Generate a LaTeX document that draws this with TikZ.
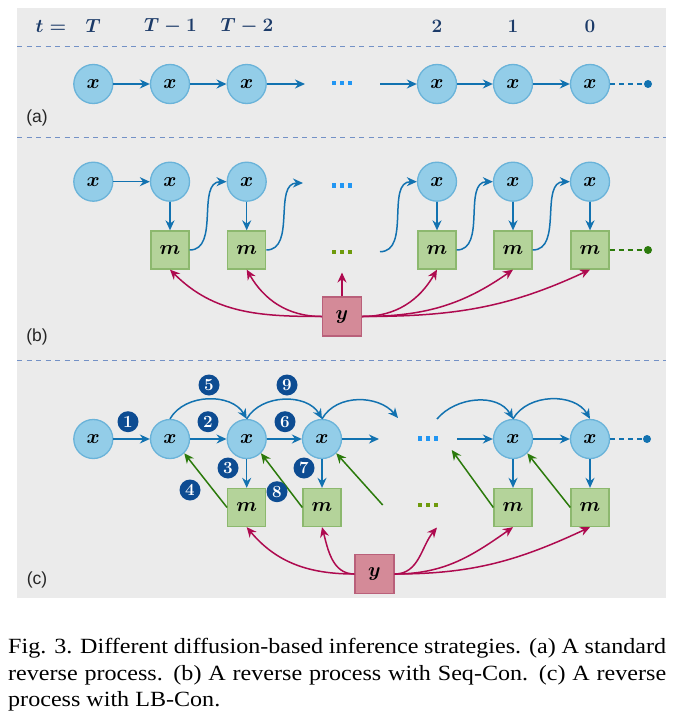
\RequirePackage{fix-cm}
\documentclass[tikz,border=0pt]{standalone}
\usepackage{fontspec}
\usepackage{amsmath}
\usepackage{graphicx}
\usetikzlibrary{arrows.meta}
\newfontfamily\capfont{Liberation Serif}
\newfontfamily\labfont{Liberation Sans}
\definecolor{bgc}{HTML}{EBEBEB}
\definecolor{xfill}{HTML}{93CDE8}
\definecolor{xdraw}{HTML}{6AB3D9}
\definecolor{arrblue}{HTML}{1272B0}
\definecolor{mfill}{HTML}{B4D39A}
\definecolor{mdraw}{HTML}{8CB86E}
\definecolor{yfill}{HTML}{D48A98}
\definecolor{ydraw}{HTML}{B9607A}
\definecolor{redc}{HTML}{AE0A4F}
\definecolor{greenc}{HTML}{2B7A0B}
\definecolor{numc}{HTML}{0D4C92}
\definecolor{hdrc}{HTML}{1B3A68}
\definecolor{sepc}{HTML}{7391C6}
\definecolor{dotblue}{HTML}{2196F3}
\definecolor{dotgreen}{HTML}{6E9A0C}
\newcommand\mathfs{\fontsize{20}{22}\selectfont\boldmath}
\newcommand\capline[1]{\scalebox{1.11}[1]{\makebox[592.8pt][s]{#1}}}
\begin{document}
\begin{tikzpicture}[x=1pt,y=1pt,
  xn/.style={circle,fill=xfill,draw=xdraw,line width=1.3pt,minimum size=39pt,inner sep=0pt,font=\mathfs},
  mn/.style={rectangle,fill=mfill,draw=mdraw,line width=1.3pt,minimum size=38pt,inner sep=0pt,font=\mathfs},
  yn/.style={rectangle,fill=yfill,draw=ydraw,line width=1.3pt,minimum size=39pt,inner sep=0pt,font=\mathfs},
  hdr/.style={text=hdrc,font=\fontsize{19}{20}\selectfont\boldmath,inner sep=0pt},
  lab/.style={font=\labfont\fontsize{17.5}{19}\selectfont,text=black!85,inner sep=0pt},
  num/.style={circle,fill=numc,text=white,minimum size=21pt,inner sep=0pt,font=\fontsize{17}{17}\selectfont\bfseries},
  barr/.style={draw=arrblue,line width=1.5pt,-{Stealth[length=10pt,width=9pt]}},
  rarr/.style={draw=redc,line width=1.5pt,-{Stealth[length=10pt,width=9pt]}},
  garr/.style={draw=greenc,line width=1.5pt,-{Stealth[length=10pt,width=9pt]}},
  bdash/.style={draw=arrblue,line width=1.5pt,dash pattern=on 5pt off 4pt},
  gdash/.style={draw=greenc,line width=1.5pt,dash pattern=on 5pt off 4pt},
  bdot/.style={circle,fill=arrblue,minimum size=8pt,inner sep=0pt},
  gdot/.style={circle,fill=greenc,minimum size=8pt,inner sep=0pt},
  sepline/.style={draw=sepc,line width=1.2pt,dash pattern=on 5pt off 4.5pt},
  captext/.style={font=\capfont\fontsize{21.7}{26}\selectfont,inner sep=0pt,anchor=base west}
]
\useasboundingbox (0,0) rectangle (673,-722);
\fill[bgc] (17,-8) rectangle (666,-598);
% separators
\draw[sepline] (17,-46.5) -- (666,-46.5);
\draw[sepline] (17,-137.5) -- (666,-137.5);
\draw[sepline] (17,-360.5) -- (666,-360.5);
% header
\node[hdr] (ht) at (51,-26) {$t=$};
\node[hdr] (hT) at (93.3,-26) {$T$};
\node[hdr] (hT1) at (170.5,-26) {$T-1$};
\node[hdr] (hT2) at (247,-26) {$T-2$};
\node[hdr] (h2) at (437,-26) {$2$};
\node[hdr] (h1) at (513,-26) {$1$};
\node[hdr] (h0) at (590,-26) {$0$};
% ---------------- (a)
\node[lab] (la) at (37,-118) {(a)};
\node[xn] (a1) at (93.3,-84) {$x$};
\node[xn] (a2) at (170,-84) {$x$};
\node[xn] (a3) at (246.7,-84) {$x$};
\node[xn] (a4) at (437,-84) {$x$};
\node[xn] (a5) at (513,-84) {$x$};
\node[xn] (a6) at (590,-84) {$x$};
\coordinate (a3e) at (305,-84);
\coordinate (a4s) at (380,-84);
\node[bdot] (aend) at (648,-84) {};
\draw[barr] (a1) -- (a2);
\draw[barr] (a2) -- (a3);
\draw[barr] (a3) -- (a3e);
\draw[barr] (a4s) -- (a4);
\draw[barr] (a4) -- (a5);
\draw[barr] (a5) -- (a6);
\draw[bdash] (a6) -- (aend);
\foreach \i in {334,342,350} \fill[dotblue] (\i-2,-83-2) rectangle ++(4.3,4.3);
% ---------------- (b)
\node[lab] (lb) at (37,-336.5) {(b)};
\node[xn] (b1) at (93.3,-181.7) {$x$};
\node[xn] (b2) at (170,-181.7) {$x$};
\node[xn] (b3) at (246.7,-181.7) {$x$};
\node[xn] (b4) at (437,-181.7) {$x$};
\node[xn] (b5) at (513,-181.7) {$x$};
\node[xn] (b6) at (590,-181.7) {$x$};
\node[mn] (bm2) at (170,-250) {$m$};
\node[mn] (bm3) at (246.7,-250) {$m$};
\node[mn] (bm4) at (437,-250) {$m$};
\node[mn] (bm5) at (513,-250) {$m$};
\node[mn] (bm6) at (590,-250) {$m$};
\node[yn] (by) at (342,-316.5) {$y$};
\coordinate (b3e) at (303,-183);
\coordinate (b4s) at (380,-251.7);
\coordinate (bup) at (342,-272.5);
\node[gdot] (bend) at (648,-250) {};
\draw[barr] (b1) -- (b2);
\draw[barr] (b2) -- (bm2);
\draw[barr] (b3) -- (bm3);
\draw[barr] (b4) -- (bm4);
\draw[barr] (b5) -- (bm5);
\draw[barr] (b6) -- (bm6);
\draw[barr] (bm2.east) to[out=0,in=180] (b3.west);
\draw[barr] (bm3.east) to[out=0,in=180] (b3e);
\draw[barr] (b4s) to[out=0,in=180] (b4.west);
\draw[barr] (bm4.east) to[out=0,in=180] (b5.west);
\draw[barr] (bm5.east) to[out=0,in=180] (b6.west);
\draw[gdash] (bm6) -- (bend);
\draw[rarr] (by) -- (bup);
\draw[rarr] (by.west) to[out=180,in=-45] (bm2.south);
\draw[rarr] (by.west) to[out=180,in=-60] (bm3.south);
\draw[rarr] (by.east) to[out=0,in=-120] (bm4.south);
\draw[rarr] (by.east) to[out=0,in=-145] (bm5.south);
\draw[rarr] (by.east) to[out=0,in=-155] (bm6.south);
\foreach \i in {334,342,350} \fill[dotblue] (\i-2,-185.7-2) rectangle ++(4.3,4.3);
\foreach \i in {334,342,350} \fill[dotgreen] (\i-2,-252-2) rectangle ++(4.3,4.3);
% ---------------- (c)
\node[lab] (lc) at (37,-580) {(c)};
\node[xn] (c1) at (93.3,-439) {$x$};
\node[xn] (c2) at (170,-439) {$x$};
\node[xn] (c3) at (246.7,-439) {$x$};
\node[xn] (c4) at (322,-439) {$x$};
\node[xn] (c5) at (513,-439) {$x$};
\node[xn] (c6) at (590,-439) {$x$};
\node[mn] (cm3) at (246.7,-507.5) {$m$};
\node[mn] (cm4) at (322,-507.5) {$m$};
\node[mn] (cm5) at (513,-507.5) {$m$};
\node[mn] (cm6) at (590,-507.5) {$m$};
\node[yn] (cy) at (374.5,-574) {$y$};
\coordinate (c4e) at (379,-439);
\coordinate (c5s) at (457,-439);
\coordinate (c4arc) at (398,-418);
\coordinate (c5arc) at (437,-419);
\coordinate (cg1) at (382.7,-505);
\coordinate (cg2) at (451.7,-450);
\coordinate (cr) at (437,-527.5);
\node[bdot] (cend) at (647,-439) {};
\draw[barr] (c1) -- (c2);
\draw[barr] (c2) -- (c3);
\draw[barr] (c3) -- (c4);
\draw[barr] (c4) -- (c4e);
\draw[barr] (c5s) -- (c5);
\draw[barr] (c5) -- (c6);
\draw[bdash] (c6) -- (cend);
\draw[barr] (c2.north) to[out=60,in=120] (c3.north);
\draw[barr] (c3.north) to[out=60,in=120] (c4.north);
\draw[barr] (c4.north) to[out=60,in=130] (c4arc);
\draw[barr] (c5arc) to[out=50,in=120] (c5.north);
\draw[barr] (c5.north) to[out=60,in=120] (c6.north);
\draw[barr] (c3) -- (cm3);
\draw[barr] (c4) -- (cm4);
\draw[barr] (c5) -- (cm5);
\draw[barr] (c6) -- (cm6);
\draw[garr] (cm3.west) -- (c2.south east);
\draw[garr] (cm4.west) -- (c3.south east);
\draw[garr] (cg1) -- (c4.south east);
\draw[garr] (cm5.west) -- (cg2);
\draw[garr] (cm6.west) -- (c5.south east);
\draw[rarr] (cy.west) to[out=180,in=-50] (cm3.south);
\draw[rarr] (cy.west) to[out=180,in=-75] (cm4.south);
\draw[rarr] (cy.east) to[out=0,in=-130] (cr);
\draw[rarr] (cy.east) to[out=0,in=-145] (cm5.south);
\draw[rarr] (cy.east) to[out=0,in=-155] (cm6.south);
\foreach \i in {420,428,436} \fill[dotblue] (\i-2,-438.5-2) rectangle ++(4.3,4.3);
\foreach \i in {420,428,436} \fill[dotgreen] (\i-2,-505-2) rectangle ++(4.3,4.3);
% number markers
\node[num] (n1) at (128,-421.7) {1};
\node[num] (n2) at (208,-421.7) {2};
\node[num] (n3) at (228,-468) {3};
\node[num] (n4) at (190,-490) {4};
\node[num] (n5) at (209,-385) {5};
\node[num] (n6) at (285,-421.7) {6};
\node[num] (n7) at (304,-468) {7};
\node[num] (n8) at (277,-491.7) {8};
\node[num] (n9) at (287,-385) {9};
% caption
\node[captext] (cap1) at (8,-653) {\capline{Fig. 3. Different diffusion-based inference strategies. (a) A standard}};
\node[captext] (cap2) at (8,-680) {\capline{reverse process. (b) A reverse process with Seq-Con. (c) A reverse}};
\node[captext] (cap3) at (8,-706.5) {\scalebox{1.11}[1]{process with LB-Con.}};
\end{tikzpicture}
\end{document}
